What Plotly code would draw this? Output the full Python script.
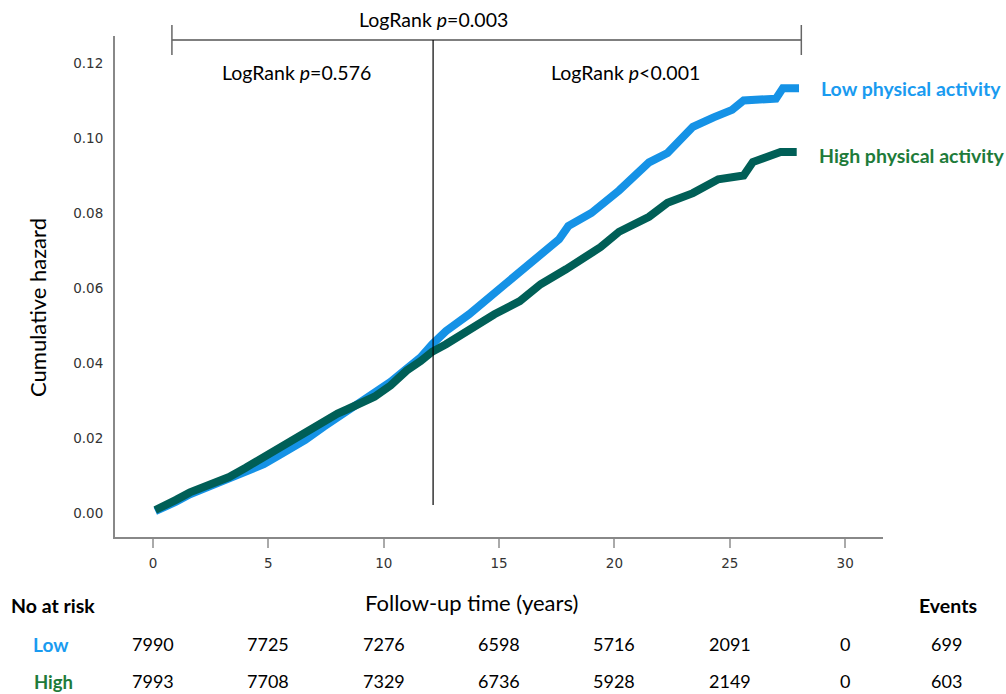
import plotly.graph_objects as go

# ---- data ----
low_t = [0.1, 0.5, 1.0, 1.6, 2.5, 3.3, 4.0, 4.8, 5.5, 6.0, 6.6, 7.4, 8.0, 8.4, 9.0, 9.6,
         10.3, 11.0, 11.6, 12.1, 12.7, 13.7, 14.8, 15.9, 17.0, 17.6, 18.0, 19.0, 20.2,
         21.5, 22.3, 23.4, 24.3, 25.1, 25.6, 27.0, 27.3, 28.0]
low_h = [0.0005, 0.0015, 0.0030, 0.0050, 0.0072, 0.0088, 0.0108, 0.0130, 0.0155, 0.0173,
         0.0195, 0.0230, 0.0255, 0.0272, 0.0293, 0.0318, 0.0350, 0.0385, 0.0415, 0.0450,
         0.0485, 0.0530, 0.0585, 0.0640, 0.0695, 0.0730, 0.0765, 0.0800, 0.0860, 0.0935,
         0.0960, 0.1030, 0.1055, 0.1075, 0.1100, 0.1105, 0.1133, 0.1133]

high_t = [0.1, 0.6, 1.0, 1.6, 2.5, 3.3, 4.0, 4.8, 5.5, 6.0, 6.6, 7.4, 8.0, 8.4, 9.0, 9.6,
          10.3, 11.0, 11.6, 12.1, 12.7, 13.7, 14.8, 15.9, 16.8, 17.9, 18.6, 19.4, 20.2,
          21.5, 22.3, 23.4, 24.5, 25.6, 26.0, 26.6, 27.2, 27.9]
high_h = [0.0008, 0.0020, 0.0035, 0.0055, 0.0078, 0.0096, 0.0120, 0.0150, 0.0175, 0.0195,
          0.0215, 0.0248, 0.0265, 0.0276, 0.0292, 0.0310, 0.0340, 0.0380, 0.0405, 0.0430,
          0.0450, 0.0488, 0.0530, 0.0565, 0.0610, 0.0650, 0.0680, 0.0709, 0.0750, 0.0790,
          0.0827, 0.0853, 0.0890, 0.0900, 0.0936, 0.0947, 0.0963, 0.0963]

risk_times = [0, 5, 10, 15, 20, 25, 30]
risk_low = [7990, 7725, 7276, 6598, 5716, 2091, 0]
risk_high = [7993, 7708, 7329, 6736, 5928, 2149, 0]
events_low = 699
events_high = 603

x_ticks = [0, 5, 10, 15, 20, 25, 30]
y_ticks = [0.00, 0.02, 0.04, 0.06, 0.08, 0.10, 0.12]

split_time = 12.14
bracket_start, bracket_end = 0.82, 28.1

LOW_C = "#1592e6"
HIGH_C = "#005f57"
LOW_TXT = "#1a9bf0"
HIGH_TXT = "#1e7b3a"
W, H = 1006, 694
FONT = "Lato"


def py(px):
    return 1 - px / H


def pxx(px):
    return px / W


fig = go.Figure()
fig.add_trace(go.Scatter(x=low_t, y=low_h, mode="lines",
                         line=dict(color=LOW_C, width=8), name="Low", showlegend=False))
fig.add_trace(go.Scatter(x=high_t, y=high_h, mode="lines",
                         line=dict(color=HIGH_C, width=8), name="High", showlegend=False))

fig.update_layout(
    width=W, height=H, margin=dict(l=0, r=0, t=0, b=0),
    paper_bgcolor="white", plot_bgcolor="white", showlegend=False,
    xaxis=dict(domain=[pxx(115), pxx(883)], range=[-1.647, 31.64],
               tickvals=x_ticks, ticks="outside", ticklen=9, tickwidth=1.5,
               tickcolor="#aaaaaa", showline=True, linecolor="#888888", linewidth=2,
               showgrid=False, zeroline=False, ticklabelstandoff=4,
               tickfont=dict(family="DejaVu Sans", size=13.5, color="#333333")),
    yaxis=dict(domain=[py(537), py(36)], range=[-0.0064, 0.1272],
               tickvals=y_ticks, tickformat=".2f", ticks="", showline=True,
               linecolor="#888888", linewidth=2, showgrid=False, zeroline=False,
               ticklabelstandoff=7,
               tickfont=dict(family="DejaVu Sans", size=13.5, color="#333333")),
)

# bracket and split line
line_black = dict(color="black", width=1.2)
fig.add_shape(type="line", xref="x", yref="paper", x0=bracket_start, x1=bracket_end,
              y0=py(40), y1=py(40), line=line_black)
fig.add_shape(type="line", xref="x", yref="paper", x0=bracket_start, x1=bracket_start,
              y0=py(25), y1=py(55), line=dict(color="#666666", width=1.5))
fig.add_shape(type="line", xref="x", yref="paper", x0=bracket_end, x1=bracket_end,
              y0=py(25), y1=py(55), line=dict(color="#666666", width=1.5))
fig.add_shape(type="line", xref="x", yref="paper", x0=split_time, x1=split_time,
              y0=py(40), y1=py(505), line=line_black)

ann = []


def text(x, y, s, size=17, color="black", xref="paper", xanchor="center", bold=False,
         textangle=0):
    if bold:
        s = "<b>" + s + "</b>"
    ann.append(dict(x=x, y=y, xref=xref, yref="paper", text=s, showarrow=False,
                    xanchor=xanchor, yanchor="middle", textangle=textangle,
                    font=dict(family=FONT, size=size, color=color)))


text(split_time, py(20), "LogRank <i>p</i>=0.003", size=19.5, xref="x")
text(pxx(296), py(73), "LogRank <i>p</i>=0.576", size=19.5)
text(pxx(625), py(73), "LogRank <i>p</i>&lt;0.001", size=19.5)
text(pxx(819), py(88), "Low physical activity", size=19.5, color=LOW_TXT,
     xanchor="left", bold=True)
text(pxx(817), py(156), "High physical activity", size=19.5, color=HIGH_TXT,
     xanchor="left", bold=True)
text(pxx(37), py(308), "Cumulative hazard", size=22, textangle=-90)
text(pxx(471), py(602), "Follow-up time (years)", size=22)
text(pxx(9), py(605), "No at risk", size=19.5, xanchor="left", bold=True)
text(pxx(948), py(605), "Events", size=19.5, bold=True)
text(pxx(51), py(644), "Low", size=19, color=LOW_TXT, bold=True)
text(pxx(53), py(682), "High", size=18.5, color=HIGH_TXT, bold=True)
for t, a, b in zip(risk_times, risk_low, risk_high):
    text(t, py(644), str(a), size=18, xref="x")
    text(t, py(681), str(b), size=18, xref="x")
text(pxx(946), py(644), str(events_low), size=18)
text(pxx(946), py(681), str(events_high), size=18)

fig.update_layout(annotations=ann)
fig.write_html(
    "out.html",
    config={"displayModeBar": False},
    post_script="document.body.style.margin='0px';document.body.style.overflow='hidden';",
)
